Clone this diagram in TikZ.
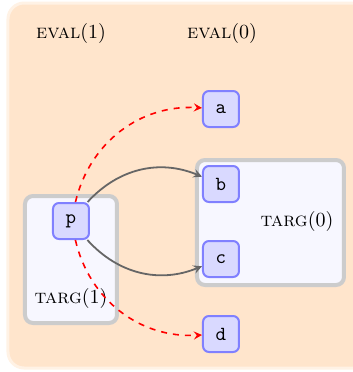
\documentclass[tikz,border=0pt]{standalone}
\usepackage{tikz}
\usepackage{xcolor}
\usetikzlibrary{arrows, positioning, calc}

\tikzset{
  var/.style={draw=blue!50, fill=blue!15, line width=1pt, rounded corners=3pt,
    minimum size=18pt, inner sep=0pt, font=\ttfamily},
  region/.style={draw=gray!40, fill=blue!3, line width=2pt, rounded corners=4pt},
  lbl/.style={font=\normalsize},
  flow/.style={->, >=stealth, black!60, line width=0.9pt},
  leak/.style={->, >=stealth, red, dashed, line width=0.8pt}
}

\begin{document}
\begin{tikzpicture}[x=0.5pt, y=-0.5pt]
\useasboundingbox (0,0) rectangle (353,372);

% Background
\draw[fill=orange!20, draw=orange!10, line width=1.5pt, rounded corners=8pt]
    (8,3) rectangle (380,368);

% Column headers
\node[lbl] (hdr1) at (71,33) {\textsc{eval}$(1)$};
\node[lbl] (hdr0) at (222,33) {\textsc{eval}$(0)$};

% Regions
\node[region, minimum width=46pt, minimum height=63.5pt] (targ1) at (71,259.5) {};
\node[region, minimum width=73.5pt, minimum height=62.5pt] (targ0) at (270.5,222.5) {};
\node[lbl] (targ1lbl) at (71,298) {\textsc{targ}$(1)$};
\node[lbl] (targ0lbl) at (297,221) {\textsc{targ}$(0)$};

% Variables
\node[var] (p) at (71,221) {p};
\node[var] (a) at (221,109) {a};
\node[var] (b) at (221,184) {b};
\node[var] (c) at (221,259) {c};
\node[var] (d) at (221,334) {d};

% Flows
\draw[flow] (p) to[bend left=35] (b);
\draw[flow] (p) to[bend right=35] (c);
\draw[leak] (p) to[bend left=40] (a);
\draw[leak] (p) to[bend right=40] (d);
\end{tikzpicture}
\end{document}
